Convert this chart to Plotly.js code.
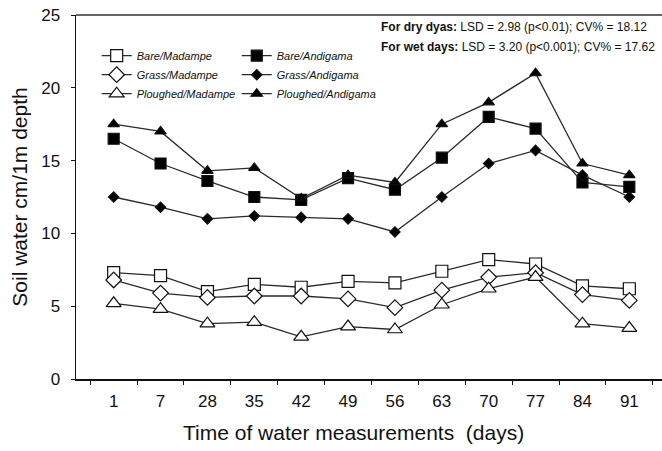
<!DOCTYPE html>
<html>
<head>
<meta charset="utf-8">
<script src="https://cdn.plot.ly/plotly-3.0.1.min.js"></script>
<style>
html,body{margin:0;padding:0;overflow:hidden;background:#fff;}
#chart{width:667px;height:451px;}
</style>
</head>
<body>
<div id="chart"></div>
<script>
// Categories (days of measurement)
var days = ["1","7","28","35","42","49","56","63","70","77","84","91"];

// Series values (soil water, cm per 1 m depth)
var bareMadampe      = [7.3, 7.1, 6.0, 6.5, 6.3, 6.7, 6.6, 7.4, 8.2, 7.9, 6.4, 6.2];
var grassMadampe     = [6.8, 5.9, 5.6, 5.7, 5.7, 5.5, 4.9, 6.1, 7.0, 7.3, 5.8, 5.4];
var ploughedMadampe  = [5.2, 4.8, 3.8, 3.9, 2.9, 3.6, 3.4, 5.1, 6.2, 7.0, 3.8, 3.5];
var bareAndigama     = [16.5, 14.8, 13.6, 12.5, 12.3, 13.8, 13.0, 15.2, 18.0, 17.2, 13.5, 13.2];
var grassAndigama    = [12.5, 11.8, 11.0, 11.2, 11.1, 11.0, 10.1, 12.5, 14.8, 15.7, 14.0, 12.5];
var ploughedAndigama = [17.5, 17.0, 14.3, 14.5, 12.4, 14.0, 13.5, 17.5, 19.0, 21.0, 14.8, 14.0];

var seriesNames = ["Bare/Madampe","Grass/Madampe","Ploughed/Madampe",
                   "Bare/Andigama","Grass/Andigama","Ploughed/Andigama"];
var yTickVals = [0,5,10,15,20,25];
var statDry = "<b>For dry dyas:</b> LSD = 2.98 (p<0.01); CV% = 18.12";
var statWet = "<b>For wet days:</b> LSD = 3.20 (p<0.001); CV% = 17.62";
var xTitle = "Time of water measurements  (days)";
var yTitle = "Soil water cm/1m depth";

var lineCol = "#2a2a2a";
function tr(name, y, symbol, size, fill, legend){
  return {
    type: "scatter", mode: "lines+markers", name: name,
    x: days, y: y, legend: legend,
    line: {color: lineCol, width: 1.3},
    marker: {symbol: symbol, size: size, color: fill,
             line: {color: "#111", width: 1.2}}
  };
}

var data = [
  tr(seriesNames[0], bareMadampe, "square", 12, "#fff", "legend"),
  tr(seriesNames[1], grassMadampe, "diamond", 12, "#fff", "legend"),
  tr(seriesNames[2], ploughedMadampe, "triangle-up", 13, "#fff", "legend"),
  tr(seriesNames[3], bareAndigama, "square", 11, "#000", "legend2"),
  tr(seriesNames[4], grassAndigama, "diamond", 8, "#000", "legend2"),
  tr(seriesNames[5], ploughedAndigama, "triangle-up", 10, "#000", "legend2")
];

var baseFam = "Liberation Sans, Arial, sans-serif";
var legFont = {family: baseFam, size: 11, color: "#111", style: "italic"};
var tickFont = {family: baseFam, size: 17, color: "#111"};

var layout = {
  width: 667, height: 451,
  margin: {l: 76, r: 0, t: 15, b: 72},
  paper_bgcolor: "#fff", plot_bgcolor: "#fff",
  showlegend: true,
  xaxis: {
    type: "category", tickson: "boundaries", ticks: "outside", ticklen: 4,
    tickcolor: "#111", showline: true, linecolor: "#111", linewidth: 1.5,
    showgrid: false, zeroline: false, tickfont: tickFont, ticklabelstandoff: 6
  },
  yaxis: {
    range: [0, 25], tickvals: yTickVals, ticks: "outside", ticklen: 4,
    tickcolor: "#111", showline: true, linecolor: "#111", linewidth: 1.5,
    showgrid: false, zeroline: false, tickfont: tickFont, ticklabelstandoff: 7,
    title: {text: yTitle, font: {family: baseFam, size: 21, color: "#111"}, standoff: 8}
  },
  legend: {x: 0.035, y: 0.928, xanchor: "left", yanchor: "top", font: legFont,
           bgcolor: "rgba(0,0,0,0)", tracegroupgap: 0, itemwidth: 30},
  legend2: {x: 0.272, y: 0.928, xanchor: "left", yanchor: "top", font: legFont,
            bgcolor: "rgba(0,0,0,0)", tracegroupgap: 0, itemwidth: 30},
  shapes: [{type: "line", xref: "paper", yref: "paper", x0: 0, x1: 1, y0: 1, y1: 1,
            line: {color: "#666", width: 2}}],
  annotations: [
    {text: statDry, xref: "paper", yref: "paper", x: 0.512, y: 0.966, xanchor: "left", yanchor: "middle",
     showarrow: false, font: {family: baseFam, size: 12, color: "#111"}},
    {text: statWet, xref: "paper", yref: "paper", x: 0.512, y: 0.912, xanchor: "left", yanchor: "middle",
     showarrow: false, font: {family: baseFam, size: 12, color: "#111"}},
    {text: xTitle, xref: "paper", yref: "paper", x: 0.469, y: -0.146, xanchor: "center", yanchor: "middle",
     showarrow: false, font: {family: baseFam, size: 21, color: "#111"}}
  ]
};

Plotly.newPlot("chart", data, layout, {displayModeBar: false, staticPlot: true});
</script>
</body>
</html>
